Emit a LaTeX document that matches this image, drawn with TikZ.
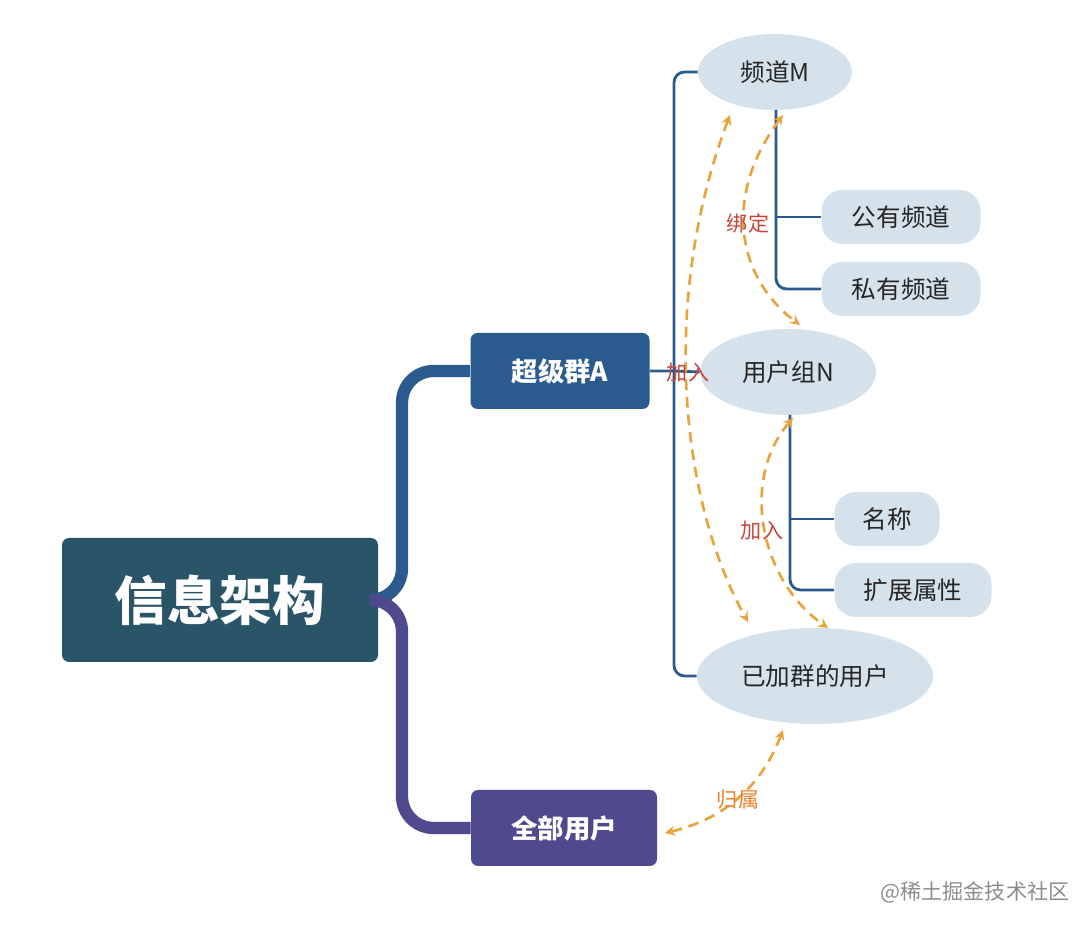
\documentclass[tikz,border=0pt]{standalone}
\usepackage{fontspec}
\setmainfont{Noto Sans CJK SC}
\usetikzlibrary{positioning,shapes.geometric}
\definecolor{rootc}{HTML}{2A5468}
\definecolor{bluec}{HTML}{2B5A8E}
\definecolor{purc}{HTML}{4F4A8E}
\definecolor{lightc}{HTML}{D6E2EB}
\definecolor{orc}{HTML}{E8A33A}
\definecolor{redc}{HTML}{C8453A}
\tikzset{
  box/.style={rectangle, rounded corners=4pt, text=white, font=\bfseries\fontsize{15}{15}\selectfont},
  oval/.style={ellipse, fill=lightc, font=\fontsize{14}{14}\selectfont, text=black!85},
  pill/.style={rectangle, rounded corners=12pt, fill=lightc, font=\fontsize{14}{14}\selectfont, text=black!85},
  tree/.style={draw=bluec, line width=1.6pt},
  link/.style={draw=orc, line width=1.5pt, dashed, dash pattern=on 6pt off 4pt, <->, >=stealth},
  tag/.style={text=redc, font=\fontsize{12}{12}\selectfont}
}
\begin{document}
\begin{tikzpicture}[x=0.02cm, y=-0.02cm]
\useasboundingbox (0,0) rectangle (1080,928);

% main boxes
\node[box, fill=rootc, minimum width=316*0.02cm, minimum height=124*0.02cm, font=\bfseries\fontsize{30}{30}\selectfont] (root) at (220,600) {信息架构};
\node[box, fill=bluec, minimum width=179*0.02cm, minimum height=76*0.02cm] (grp) at (560,371) {超级群A};
\node[box, fill=purc, minimum width=186*0.02cm, minimum height=76*0.02cm] (all) at (564,828) {全部用户};

% ovals
\node[oval, minimum width=154*0.02cm, minimum height=76*0.02cm] (chan) at (775,72) {频道M};
\node[oval, minimum width=176*0.02cm, minimum height=86*0.02cm] (team) at (788,372) {用户组N};
\node[oval, minimum width=236*0.02cm, minimum height=96*0.02cm] (mem) at (815,676) {已加群的用户};

% pills
\node[pill, minimum width=159*0.02cm, minimum height=54*0.02cm] (pub) at (901,217) {公有频道};
\node[pill, minimum width=159*0.02cm, minimum height=54*0.02cm] (priv) at (901,289) {私有频道};
\node[pill, minimum width=105*0.02cm, minimum height=54*0.02cm] (name) at (887,519) {名称};
\node[pill, minimum width=157*0.02cm, minimum height=54*0.02cm] (ext) at (913,590) {扩展属性};

% trunk
\draw[draw=bluec, line width=7pt, rounded corners=18pt] (root.east |- 0,600) -- (402,600) -- (402,371) -- (grp.west);
\draw[draw=purc, line width=7pt, rounded corners=18pt] (root.east |- 0,600) -- (402,600) -- (402,828) -- (all.west);

% brackets
\draw[tree, rounded corners=6pt] (chan.west) -- (674,72) -- (674,676) -- (mem.west);
\draw[tree] (grp.east) -- (674,371) -- (team.west);
\draw[tree, rounded corners=6pt] (776,110) -- (776,289) -- (priv.west);
\draw[tree] (776,217) -- (pub.west);
\draw[tree, rounded corners=6pt] (790,415) -- (790,590) -- (ext.west);
\draw[tree] (790,519) -- (name.west);

% dashed links
\draw[link] (730,115) .. controls (660,300) and (680,500) .. (748,622);
\node[tag] (t1) at (688,373) {加入};
\draw[link] (783,115) .. controls (720,200) and (740,280) .. (800,325);
\node[tag] (t2) at (748,223) {绑定};
\draw[link] (793,418) .. controls (740,480) and (760,580) .. (828,628);
\node[tag] (t3) at (762,531) {加入};
\draw[link] (783,730) .. controls (760,790) and (720,820) .. (665,833);
\node[tag, text=orc!80!red] (t4) at (738,800) {归属};

\node[text=black!45, font=\fontsize{12}{12}\selectfont] (wm) at (975,892) {@稀土掘金技术社区};
\end{tikzpicture}
\end{document}
